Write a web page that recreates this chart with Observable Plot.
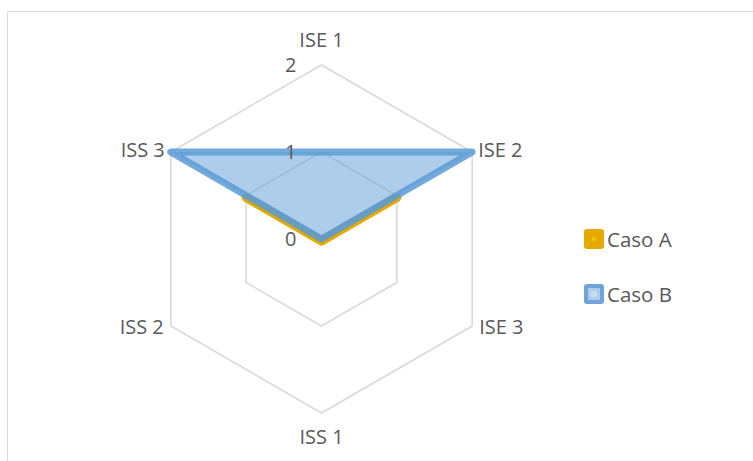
<!DOCTYPE html>
<html>
<head>
<meta charset="utf-8">
<script src="https://cdn.jsdelivr.net/npm/d3@7"></script>
<script src="https://cdn.jsdelivr.net/npm/@observablehq/plot@0.6"></script>
<style>
  body { margin: 0; background: #fff; overflow: hidden; }
  #wrap { position: relative; width: 753px; height: 461px; overflow: hidden; font-family: "Open Sans", sans-serif; }
  #frame { position: absolute; left: 7px; top: 11px; width: 800px; height: 500px; border: 1px solid #D9D9D9; box-sizing: border-box; }
  #chart { position: absolute; left: 0; top: 0; }
  #legend { position: absolute; left: 584px; top: 228px; color: #595959; font-size: 20.5px; }
  .item { display: flex; align-items: center; height: 22px; margin-bottom: 33px; }
  .sw { width: 20px; height: 20px; border-radius: 3px; box-sizing: border-box; margin-right: 3px; display: flex; align-items: center; justify-content: center; }
  .swA { background: #E3AA00; }
  .swA span { width: 4px; height: 4px; background: #F5C200; border-radius: 1px; }
  .swB { background: #AECBEA; border: 4px solid #6FA3D9; }
  .swB span { width: 6px; height: 6px; background: #C9DCF1; }
</style>
</head>
<body>
<div id="wrap">
  <div id="frame"></div>
  <div id="chart"></div>
  <div id="legend"></div>
</div>
<script>
const categories = ["ISE 1", "ISE 2", "ISE 3", "ISS 1", "ISS 2", "ISS 3"];
const casoA = [0, 1, 0, 0, 0, 1];
const casoB = [1, 2, 0, 0, 0, 2];
const gridLevels = [1, 2];
const tickLabels = [0, 1, 2];
const seriesNames = ["Caso A", "Caso B"];
const seriesColors = ["#E3AA00", "#5B9BD5"];

const maxV = 2;
const angle = i => Math.PI / 2 - i * Math.PI / 3;
const toPts = (vals, name) => vals.map((v, i) => ({name, cat: categories[i], v, x: v * Math.cos(angle(i)), y: v * Math.sin(angle(i))}));

const grid = gridLevels.flatMap(l => toPts(categories.map(() => l), "L" + l));
const ptsA = toPts(casoA, seriesNames[0]);
const ptsB = toPts(casoB, seriesNames[1]);
const labelPts = toPts(categories.map(() => maxV), "labels");
const isVert = d => Math.abs(d.x) < 1e-6;
const topL = labelPts.filter(d => isVert(d) && d.y > 0);
const bottomL = labelPts.filter(d => isVert(d) && d.y < 0);
const rightUp = labelPts.filter(d => !isVert(d) && d.x > 0 && d.y > 0);
const rightDown = labelPts.filter(d => !isVert(d) && d.x > 0 && d.y < 0);
const leftUp = labelPts.filter(d => !isVert(d) && d.x < 0 && d.y > 0);
const leftDown = labelPts.filter(d => !isVert(d) && d.x < 0 && d.y < 0);

const txt = {x: "x", y: "y", text: "cat", fill: "#595959", fontSize: 20};

const chart = Plot.plot({
  width: 753,
  height: 461,
  margin: 0,
  x: {domain: [-2, 2], range: [147, 495], axis: null},
  y: {domain: [-2, 2], range: [412.5, 64.5], axis: null},
  style: {fontFamily: "'Open Sans', sans-serif", fontSize: "20px", color: "#595959", background: "transparent"},
  marks: [
    Plot.line(grid, {x: "x", y: "y", z: "name", curve: "linear-closed", stroke: "#D9D9D9", strokeWidth: 1.5}),
    Plot.line(ptsA, {x: "x", y: "y", curve: "linear-closed", stroke: seriesColors[0], strokeWidth: 9, strokeLinejoin: "round", dy: 2}),
    Plot.line(ptsB, {x: "x", y: "y", curve: "linear-closed", fill: seriesColors[1], fillOpacity: 0.5, stroke: seriesColors[1], strokeOpacity: 0.85, strokeWidth: 7, strokeLinejoin: "round"}),
    Plot.text(tickLabels, {x: () => 0, y: d => d, text: d => String(d), textAnchor: "end", dx: -25, dy: 1, fill: "#595959", fontSize: 20}),
    Plot.text(topL, {...txt, dy: -24}),
    Plot.text(bottomL, {...txt, dy: 25}),
    Plot.text(rightUp, {...txt, textAnchor: "start", dx: 6, dy: -1}),
    Plot.text(rightDown, {...txt, textAnchor: "start", dx: 7, dy: 2}),
    Plot.text(leftUp, {...txt, textAnchor: "end", dx: -6, dy: -1}),
    Plot.text(leftDown, {...txt, textAnchor: "end", dx: -7, dy: 2})
  ]
});
document.getElementById("chart").appendChild(chart);

const legend = document.getElementById("legend");
seriesNames.forEach((n, i) => {
  const item = document.createElement("div");
  item.className = "item";
  item.innerHTML = `<div class="sw ${i === 0 ? "swA" : "swB"}"><span></span></div><span>${n}</span>`;
  legend.appendChild(item);
});
</script>
</body>
</html>
